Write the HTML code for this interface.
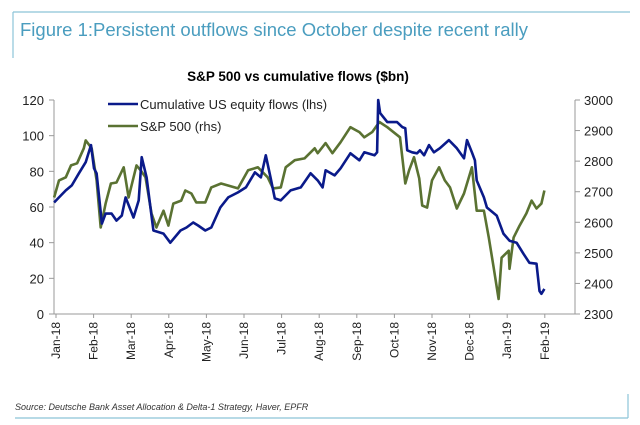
<!DOCTYPE html>
<html><head><meta charset="utf-8"><style>
body{margin:0;background:#fff;width:640px;height:425px;overflow:hidden}
svg{display:block}
text{font-family:"Liberation Sans",sans-serif}
</style></head><body>
<svg id="c" width="640" height="425">
<line x1="13" y1="12" x2="630" y2="12" stroke="#8cc4d8" stroke-width="1.2"/>
<line x1="13" y1="12" x2="13" y2="58" stroke="#8cc4d8" stroke-width="1.2"/>
<text x="20" y="36" font-size="18.5" fill="#4a9dbf">Figure 1:Persistent outflows since October despite recent rally</text>
<text x="298" y="81" font-size="13.5" font-weight="bold" text-anchor="middle" fill="#000">S&amp;P 500 vs cumulative flows ($bn)</text>
<g id="axes"></g>
<g id="series"></g>
<g>
<line x1="108" y1="104" x2="138" y2="104" stroke="#0a1a8a" stroke-width="2.5"/>
<text x="140" y="109" font-size="13" fill="#222">Cumulative US equity flows (lhs)</text>
<line x1="108" y1="126" x2="138" y2="126" stroke="#5a7232" stroke-width="2.5"/>
<text x="140" y="131" font-size="13" fill="#222">S&amp;P 500 (rhs)</text>
</g>
<text x="15" y="410" font-size="9" font-style="italic" fill="#333">Source: Deutsche Bank Asset Allocation &amp; Delta-1 Strategy, Haver, EPFR</text>
<line x1="15" y1="418" x2="628" y2="418" stroke="#8cc4d8" stroke-width="1.2"/>
<line x1="628" y1="394" x2="628" y2="418" stroke="#8cc4d8" stroke-width="1.2"/>
</svg>
<script>
const months=["Jan-18","Feb-18","Mar-18","Apr-18","May-18","Jun-18","Jul-18","Aug-18","Sep-18","Oct-18","Nov-18","Dec-18","Jan-19","Feb-19"];
const leftTicks=[0,20,40,60,80,100,120];
const rightTicks=[2300,2400,2500,2600,2700,2800,2900,3000];
const flowT=[-0.05,0.08,0.26,0.42,0.61,0.79,0.93,1.01,1.08,1.22,1.32,1.48,1.61,1.75,1.85,2.06,2.20,2.28,2.41,2.59,2.86,3.04,3.31,3.47,3.65,3.78,3.97,4.13,4.37,4.58,4.84,5.05,5.29,5.45,5.58,5.71,5.82,5.98,6.24,6.51,6.77,6.96,7.09,7.17,7.41,7.57,7.83,8.07,8.20,8.47,8.54,8.57,8.62,8.81,9.07,9.21,9.29,9.34,9.47,9.60,9.68,9.79,9.92,10.05,10.21,10.45,10.66,10.85,10.93,11.06,11.14,11.19,11.38,11.46,11.72,11.90,12.06,12.25,12.43,12.59,12.78,12.86,12.91,12.99];
const flowV=[62.5,65.4,69.3,72.1,78.9,85.1,94.7,81.7,78.9,50.7,56.3,56.3,52.4,55.2,65.4,54.1,63.7,87.9,76.6,46.8,45.1,40.0,46.8,48.5,51.3,49.6,46.8,48.5,59.7,65.4,68.2,71.0,79.4,76.6,89.0,76.1,64.8,63.7,69.3,71.0,78.9,74.9,71.0,80.6,77.7,81.7,90.1,86.2,90.7,89.0,90.7,120,112.7,107.6,107.6,104.8,104.2,91.8,90.7,90.1,91.8,89.0,94.7,90.7,93.0,97.5,93.0,87.3,97.5,90.7,86.2,74.9,65.4,59.7,55.2,45.1,41.1,40.0,33.8,28.7,28.2,12.9,11.3,14.1];
const spT=[-0.05,0.08,0.26,0.40,0.56,0.74,0.79,0.95,1.08,1.19,1.32,1.46,1.61,1.80,1.93,2.14,2.25,2.38,2.54,2.67,2.86,2.99,3.12,3.33,3.44,3.60,3.73,3.97,4.13,4.39,4.84,5.11,5.37,5.63,5.77,5.98,6.11,6.35,6.61,6.88,6.96,7.17,7.35,7.57,7.83,8.07,8.20,8.41,8.60,8.81,9.15,9.29,9.39,9.52,9.66,9.74,9.87,10.0,10.19,10.34,10.48,10.66,10.85,11.06,11.19,11.38,11.51,11.64,11.77,11.85,12.04,12.06,12.17,12.33,12.51,12.65,12.78,12.91,12.99];
const spV=[2681,2737,2747,2786,2793,2842,2868,2842,2737,2583,2661,2727,2730,2780,2681,2786,2770,2747,2629,2583,2638,2589,2661,2671,2704,2694,2665,2665,2714,2727,2711,2770,2780,2747,2711,2714,2780,2803,2809,2842,2826,2859,2826,2862,2911,2895,2878,2895,2928,2911,2878,2727,2770,2813,2744,2655,2648,2737,2780,2737,2714,2645,2694,2780,2638,2638,2550,2451,2349,2484,2507,2448,2550,2589,2629,2671,2645,2661,2704];

const X0=54,X1=575,Y0=314,Y1=100;
const xm=m=>56+m*37.6;
const yl=v=>Y0-(v-0)/120*(Y0-Y1);
const yr=v=>Y0-(v-2300)/700*(Y0-Y1);
const NS="http://www.w3.org/2000/svg";
function mk(tag,attrs,parent,txt){const e=document.createElementNS(NS,tag);for(const k in attrs)e.setAttribute(k,attrs[k]);if(txt!=null)e.textContent=txt;parent.appendChild(e);return e;}
const ax=document.getElementById('axes');
let e;
e=mk('line',{x1:X0,y1:Y1,x2:X0,y2:Y0,stroke:'#999','stroke-width':1},ax);


e=mk('line',{x1:X1,y1:Y1,x2:X1,y2:Y0,stroke:'#999','stroke-width':1},ax);


e=mk('line',{x1:X0,y1:Y0,x2:X1,y2:Y0,stroke:'#999','stroke-width':1},ax);


leftTicks.forEach(v=>{
 mk('line',{x1:X0-5,y1:yl(v),x2:X0,y2:yl(v),stroke:'#999'},ax);
 e=mk('text',{x:X0-10,y:yl(v)+5,'font-size':13,'text-anchor':'end',fill:'#222'},ax,v);
 
 
});
rightTicks.forEach(v=>{
 mk('line',{x1:X1,y1:yr(v),x2:X1+5,y2:yr(v),stroke:'#999'},ax);
 e=mk('text',{x:X1+9,y:yr(v)+5,'font-size':13,fill:'#222'},ax,v);
 
 
});
months.forEach((m,i)=>{
 const x=xm(i);
 mk('line',{x1:x,y1:Y0,x2:x,y2:Y0+4,stroke:'#999'},ax);
 e=mk('text',{x:0,y:0,'font-size':12,'text-anchor':'end',fill:'#222',transform:`translate(${x+4},${Y0+8}) rotate(-90)`},ax,m);
 
 
});
const sg=document.getElementById('series');
e=mk('polyline',{points:spT.map((t,i)=>xm(t).toFixed(1)+','+yr(spV[i]).toFixed(1)).join(' '),fill:'none',stroke:'#5a7232','stroke-width':2.6,'stroke-linejoin':'round'},sg);


e=mk('polyline',{points:flowT.map((t,i)=>xm(t).toFixed(1)+','+yl(flowV[i]).toFixed(1)).join(' '),fill:'none',stroke:'#0a1a8a','stroke-width':2.6,'stroke-linejoin':'round'},sg);


</script>
</body></html>
